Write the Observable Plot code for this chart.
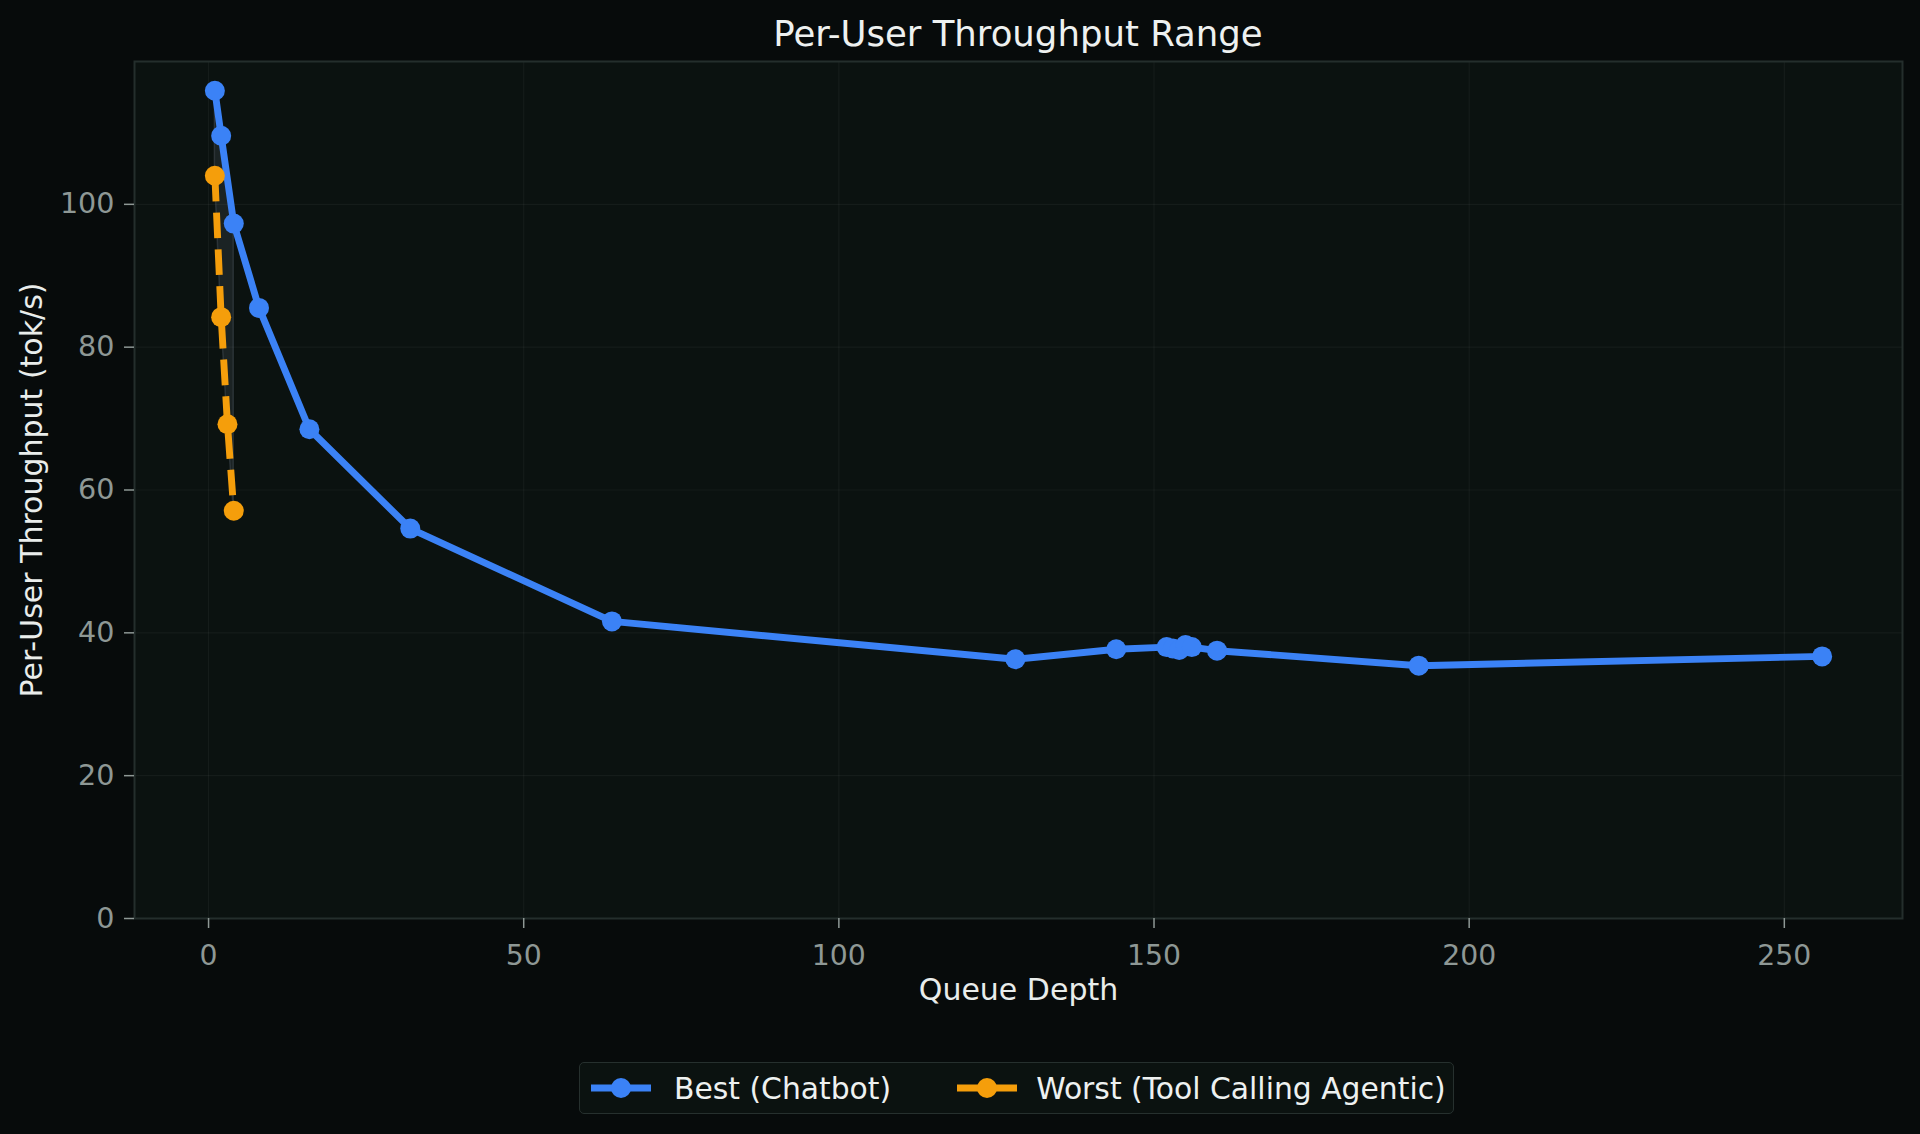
<!DOCTYPE html>
<html>
<head>
<meta charset="utf-8">
<script src="https://cdn.jsdelivr.net/npm/d3@7"></script>
<script src="https://cdn.jsdelivr.net/npm/@observablehq/plot@0.6"></script>
<style>
  html, body { margin: 0; padding: 0; background: #070b0b; }
  #wrap { position: relative; width: 1920px; height: 1134px; background: #070b0b; font-family: "DejaVu Sans", sans-serif; overflow: hidden; }
  #title { position: absolute; left: 134px; width: 1768px; top: 13px; text-align: center; font-size: 35.5px; color: #eef1f0; line-height: 42px; }
  #chart { position: absolute; left: 0; top: 0; }
  #legend { position: absolute; left: 579px; top: 1062px; width: 873px; height: 50px; border: 1.5px solid #26302e; border-radius: 5px; background: #0b1210; display: flex; align-items: center; box-sizing: content-box; }
  .item { display: flex; align-items: center; font-size: 29.8px; color: #eef1f0; white-space: nowrap; }
  .item svg { display: block; }
</style>
</head>
<body>
<div id="wrap">
  <div id="chart"></div>
  <div id="title">Per-User Throughput Range</div>
  <div id="legend"></div>
</div>
<script>
// ---- data ----
const bestLabel = "Best (Chatbot)";
const worstLabel = "Worst (Tool Calling Agentic)";
const queueBest = [1, 2, 4, 8, 16, 32, 64, 128, 144, 152, 153, 154, 155, 156, 160, 192, 256];
const tputBest = [115.9, 109.6, 97.3, 85.5, 68.5, 54.6, 41.6, 36.3, 37.7, 38.0, 37.8, 37.6, 38.3, 38.0, 37.5, 35.4, 36.7];
const queueWorst = [1, 2, 3, 4];
const tputWorst = [104.0, 84.2, 69.2, 57.1];
const xTicks = [0, 50, 100, 150, 200, 250];
const yTicks = [0, 20, 40, 60, 80, 100];

const blue = "#3b82f6";
const orange = "#f59e0b";

const best = queueBest.map((q, i) => ({q, v: tputBest[i]}));
const worst = queueWorst.map((q, i) => ({q, v: tputWorst[i]}));
// band between worst and best over the common queue range (best)
const bestAt = q => {
  const j = d3.bisectLeft(queueBest, q);
  if (queueBest[j] === q) return tputBest[j];
  const q0 = queueBest[j - 1], q1 = queueBest[j];
  const t = (q - q0) / (q1 - q0);
  return tputBest[j - 1] + t * (tputBest[j] - tputBest[j - 1]);
};
const band = worst.map(d => ({q: d.q, lo: d.v, hi: bestAt(d.q)}));

const tickColor = "#8e9895";
const labelColor = "#e9edeb";

const chart = Plot.plot({
  width: 1920,
  height: 1030,
  marginTop: 61,
  marginBottom: 112,
  marginLeft: 134,
  marginRight: 18,
  style: {background: "transparent", fontFamily: "DejaVu Sans, sans-serif", color: tickColor},
  x: {domain: [-11.75, 268.75], label: null},
  y: {domain: [0, 120], label: null},
  marks: [
    Plot.frame({fill: "#0b1210"}),
    Plot.gridX(xTicks, {stroke: "#ffffff", strokeOpacity: 0.045, strokeWidth: 1.2}),
    Plot.gridY(yTicks, {stroke: "#ffffff", strokeOpacity: 0.045, strokeWidth: 1.2}),
    Plot.areaY(band, {x: "q", y1: "lo", y2: "hi", fill: "#94a3b8", fillOpacity: 0.12, stroke: "#94a3b8", strokeOpacity: 0.18, strokeWidth: 1.5}),
    Plot.line(best, {x: "q", y: "v", stroke: blue, strokeWidth: 6.9, strokeLinejoin: "round", strokeLinecap: "butt"}),
    Plot.dot(best, {x: "q", y: "v", r: 10, fill: blue, stroke: null}),
    Plot.line(worst, {x: "q", y: "v", stroke: orange, strokeWidth: 6.9, strokeDasharray: "25.7,11.1", strokeLinecap: "butt"}),
    Plot.dot(worst, {x: "q", y: "v", r: 10, fill: orange, stroke: null}),
    Plot.frame({stroke: "#242e2c", strokeWidth: 2}),
    Plot.axisX(xTicks, {tickSize: 10, tickPadding: 16, fontSize: 28.3, label: null, stroke: tickColor, strokeWidth: 1.5}),
    Plot.axisY(yTicks, {tickSize: 10, tickPadding: 10, fontSize: 28.6, label: null, stroke: tickColor, strokeWidth: 1.5}),
    Plot.text(["Queue Depth"], {text: d => d, frameAnchor: "bottom", lineAnchor: "middle", dy: 72, fontSize: 30, fill: labelColor}),
    Plot.text(["Per-User Throughput (tok/s)"], {text: d => d, frameAnchor: "left", textAnchor: "middle", lineAnchor: "middle", dx: -102, rotate: -90, fontSize: 30, fill: labelColor})
  ]
});
document.getElementById("chart").appendChild(chart);

// ---- legend ----
const legend = d3.select("#legend");
const items = [
  {label: bestLabel, color: blue, ml: 11, gap: 23},
  {label: worstLabel, color: orange, ml: 66, gap: 19}
];
items.forEach(it => {
  const div = legend.append("div").attr("class", "item").style("margin-left", it.ml + "px");
  const s = div.append("svg").attr("width", 60).attr("height", 24).style("margin-right", it.gap + "px");
  s.append("line").attr("x1", 0).attr("x2", 60).attr("y1", 12).attr("y2", 12)
    .attr("stroke", it.color).attr("stroke-width", 6.9);
  s.append("circle").attr("cx", 30).attr("cy", 12).attr("r", 10).attr("fill", it.color);
  div.append("span").text(it.label);
});
</script>
</body>
</html>
